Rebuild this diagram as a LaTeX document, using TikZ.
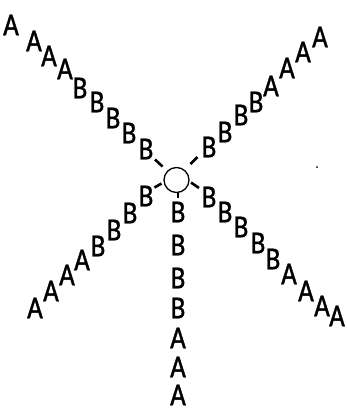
\documentclass[tikz,border=0pt]{standalone}
\usepackage{fontspec}
\usepackage{graphicx}
\setmainfont{Carlito}
\newfontfamily\letfont[FakeBold=1.2]{Carlito}
\usetikzlibrary{calc}
\newcommand{\Lt}[1]{\scalebox{0.85}[1]{#1}}
\tikzset{
  let/.style={inner sep=0pt, outer sep=0pt, font=\letfont\fontsize{32}{32}\selectfont},
  hub/.style={circle, draw, line width=1.3pt, minimum size=25pt, inner sep=0pt},
  tick/.style={line width=2.6pt},
  speck/.style={fill=black, circle, inner sep=0pt, minimum size=2pt}
}
\begin{document}
\begin{tikzpicture}[x=1pt,y=-1pt]
\useasboundingbox (0,0) rectangle (346,410);
\node[hub] (c) at (176.5,180) {};
% upper left arm
\node[let] (ul1) at (11,25) {\Lt{A}};
\node[let] (ul2) at (34,41) {\Lt{A}};
\node[let] (ul3) at (49,56) {\Lt{A}};
\node[let] (ul4) at (65,69) {\Lt{A}};
\node[let] (ul5) at (80,88) {\Lt{B}};
\node[let] (ul6) at (97,102) {\Lt{B}};
\node[let] (ul7) at (113,118) {\Lt{B}};
\node[let] (ul8) at (129,133) {\Lt{B}};
\node[let] (ul9) at (146,149) {\Lt{B}};
% upper right arm
\node[let] (ur1) at (209,147) {\Lt{B}};
\node[let] (ur2) at (225,132) {\Lt{B}};
\node[let] (ur3) at (241,115) {\Lt{B}};
\node[let] (ur4) at (256,102) {\Lt{B}};
\node[let] (ur5) at (271,86) {\Lt{A}};
\node[let] (ur6) at (287,68) {\Lt{A}};
\node[let] (ur7) at (303,52) {\Lt{A}};
\node[let] (ur8) at (320,37) {\Lt{A}};
% lower left arm
\node[let] (ll1) at (146,196) {\Lt{B}};
\node[let] (ll2) at (130,213) {\Lt{B}};
\node[let] (ll3) at (114,230) {\Lt{B}};
\node[let] (ll4) at (98,246) {\Lt{B}};
\node[let] (ll5) at (82,260) {\Lt{A}};
\node[let] (ll6) at (67,275) {\Lt{A}};
\node[let] (ll7) at (51,291) {\Lt{A}};
\node[let] (ll8) at (35,308) {\Lt{A}};
% lower right arm
\node[let] (lr1) at (209,197) {\Lt{B}};
\node[let] (lr2) at (225,212) {\Lt{B}};
\node[let] (lr3) at (241,227) {\Lt{B}};
\node[let] (lr4) at (258,243) {\Lt{B}};
\node[let] (lr5) at (273,259) {\Lt{B}};
\node[let] (lr6) at (289,274) {\Lt{A}};
\node[let] (lr7) at (306,291) {\Lt{A}};
\node[let] (lr8) at (322,306) {\Lt{A}};
\node[let] (lr9) at (337,316) {\Lt{A}};
% bottom arm
\node[let] (b1) at (178,212) {\Lt{B}};
\node[let] (b2) at (178,245) {\Lt{B}};
\node[let] (b3) at (178,278) {\Lt{B}};
\node[let] (b4) at (178,308) {\Lt{B}};
\node[let] (b5) at (178,338) {\Lt{A}};
\node[let] (b6) at (178,367) {\Lt{A}};
\node[let] (b7) at (178,395) {\Lt{A}};
% ticks
\draw[tick] ($(c.center)+(-14,-13.5)$) -- ($(c.center)+(-21.5,-20.5)$);
\draw[tick] ($(c.center)+(14,-16)$) -- ($(c.center)+(21,-23)$);
\draw[tick] ($(c.center)+(-15,3.5)$) -- ($(c.center)+(-22,7.5)$);
\draw[tick] ($(c.center)+(14.5,2.5)$) -- ($(c.center)+(22.5,8)$);
\draw[line width=1.8pt] ($(c.center)+(1.5,13)$) -- ($(c.center)+(1.5,17.5)$);
\node[speck] (s1) at (317,167) {};
\end{tikzpicture}
\end{document}
